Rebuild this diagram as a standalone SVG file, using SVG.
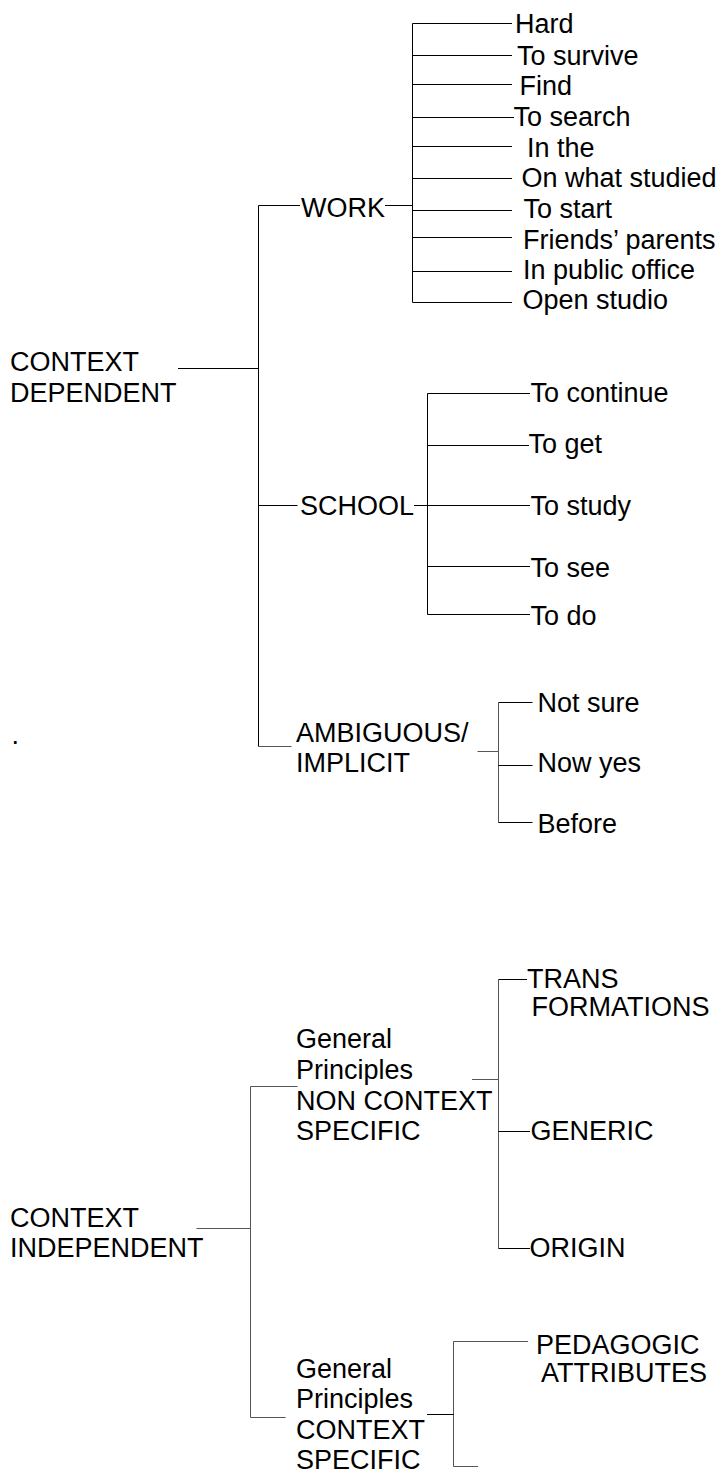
<svg xmlns="http://www.w3.org/2000/svg" width="720" height="1475" viewBox="0 0 720 1475">
  <style>
    text { font-family: "Liberation Sans", Arial, sans-serif; font-size: 27px; fill: #000; }
    .ln { stroke: #000; stroke-width: 1; fill: none; }
    .gr { stroke: #555; stroke-width: 1; fill: none; }
  </style>
  <rect width="720" height="1475" fill="#fff"/>

  <!-- connectors -->
  <g id="connectors">
    <!-- context dependent trunk -->
    <path class="ln" d="M178 368.5H258.5M258.5 205.5V746.5"/>
    <!-- WORK -->
    <path class="ln" d="M258.5 205.5H300M385 205.5H412.5M412.5 23.5V302.5"/>
    <path class="ln" d="M412.5 23.5H512M412.5 55.5H512M412.5 84.5H512M412.5 117.5H514M412.5 146.5H512M412.5 178.5H512M412.5 210.5H512M412.5 237.5H512M412.5 271.5H512M412.5 302.5H512"/>
    <!-- SCHOOL -->
    <path class="ln" d="M258.5 505.5H297.5M414 505.5H530M427.5 393.5V614.5"/>
    <path class="ln" d="M427.5 393.5H530M427.5 445.5H529M427.5 566.5H530M427.5 614.5H530"/>
    <!-- AMBIGUOUS / IMPLICIT -->
    <path class="gr" d="M258.5 746.5H291.5M477.5 751.5H498.5M498.5 702.5V822.5"/>
    <path class="ln" d="M498.5 702.5H532.5M498.5 765.5H532.5M498.5 822.5H532.5"/>
    <!-- context independent trunk -->
    <path class="gr" d="M196.5 1228.5H250.5M250.5 1086.5V1417.5"/>
    <!-- non context specific -->
    <path class="gr" d="M250.5 1086.5H297.5M472 1079.5H498.5M498.5 979.5V1248.5"/>
    <path class="ln" d="M498.5 979.5H527M498.5 1131.5H530M498.5 1248.5H530"/>
    <!-- context specific -->
    <path class="gr" d="M250.5 1417.5H285.5M453.5 1341.5V1466.5M453.5 1341.5H528M453.5 1466.5H478"/>
    <path class="ln" d="M427 1414.5H453.5"/>
  </g>

  <g id="context-dependent"><text x="10" y="371">CONTEXT</text><text x="10" y="401.5">DEPENDENT</text></g>
  <g id="work"><text x="301" y="217">WORK</text></g>
  <g id="work-hard"><text x="515" y="33">Hard</text></g>
  <g id="work-survive"><text x="517" y="64.5">To survive</text></g>
  <g id="work-find"><text x="519.5" y="94.5">Find</text></g>
  <g id="work-search"><text x="513.5" y="126">To search</text></g>
  <g id="work-inthe"><text x="527" y="157">In the</text></g>
  <g id="work-studied"><text x="521.5" y="187">On what studied</text></g>
  <g id="work-start"><text x="523.5" y="217.5">To start</text></g>
  <g id="work-friends"><text x="523" y="248.5">Friends’ parents</text></g>
  <g id="work-office"><text x="523" y="278.5">In public office</text></g>
  <g id="work-studio"><text x="522.5" y="308.5">Open studio</text></g>

  <g id="school"><text x="300" y="515">SCHOOL</text></g>
  <g id="school-continue"><text x="530.5" y="402">To continue</text></g>
  <g id="school-get"><text x="528.5" y="453">To get</text></g>
  <g id="school-study"><text x="530.5" y="515">To study</text></g>
  <g id="school-see"><text x="530.5" y="576.5">To see</text></g>
  <g id="school-do"><text x="530.5" y="625">To do</text></g>

  <g id="ambiguous"><text x="296" y="741.5">AMBIGUOUS/</text><text x="296" y="772">IMPLICIT</text></g>
  <g id="amb-notsure"><text x="537.5" y="711.5">Not sure</text></g>
  <g id="amb-nowyes"><text x="537.5" y="772">Now yes</text></g>
  <g id="amb-before"><text x="537.5" y="833">Before</text></g>
  <g id="dot"><text x="11.5" y="744">.</text></g>

  <g id="context-independent"><text x="10" y="1226.5">CONTEXT</text><text x="10" y="1257">INDEPENDENT</text></g>
  <g id="non-context-specific">
    <text x="296" y="1048">General</text><text x="296" y="1079">Principles</text>
    <text x="296" y="1110">NON CONTEXT</text><text x="296" y="1140">SPECIFIC</text>
  </g>
  <g id="transformations"><text x="527" y="988">TRANS</text><text x="531.5" y="1016">FORMATIONS</text></g>
  <g id="generic"><text x="530.5" y="1140">GENERIC</text></g>
  <g id="origin"><text x="529.5" y="1257">ORIGIN</text></g>
  <g id="context-specific">
    <text x="296" y="1377.5">General</text><text x="296" y="1408">Principles</text>
    <text x="296" y="1438.5">CONTEXT</text><text x="296" y="1469">SPECIFIC</text>
  </g>
  <g id="pedagogic"><text x="536" y="1354">PEDAGOGIC</text><text x="541" y="1381.5">ATTRIBUTES</text></g>
</svg>
